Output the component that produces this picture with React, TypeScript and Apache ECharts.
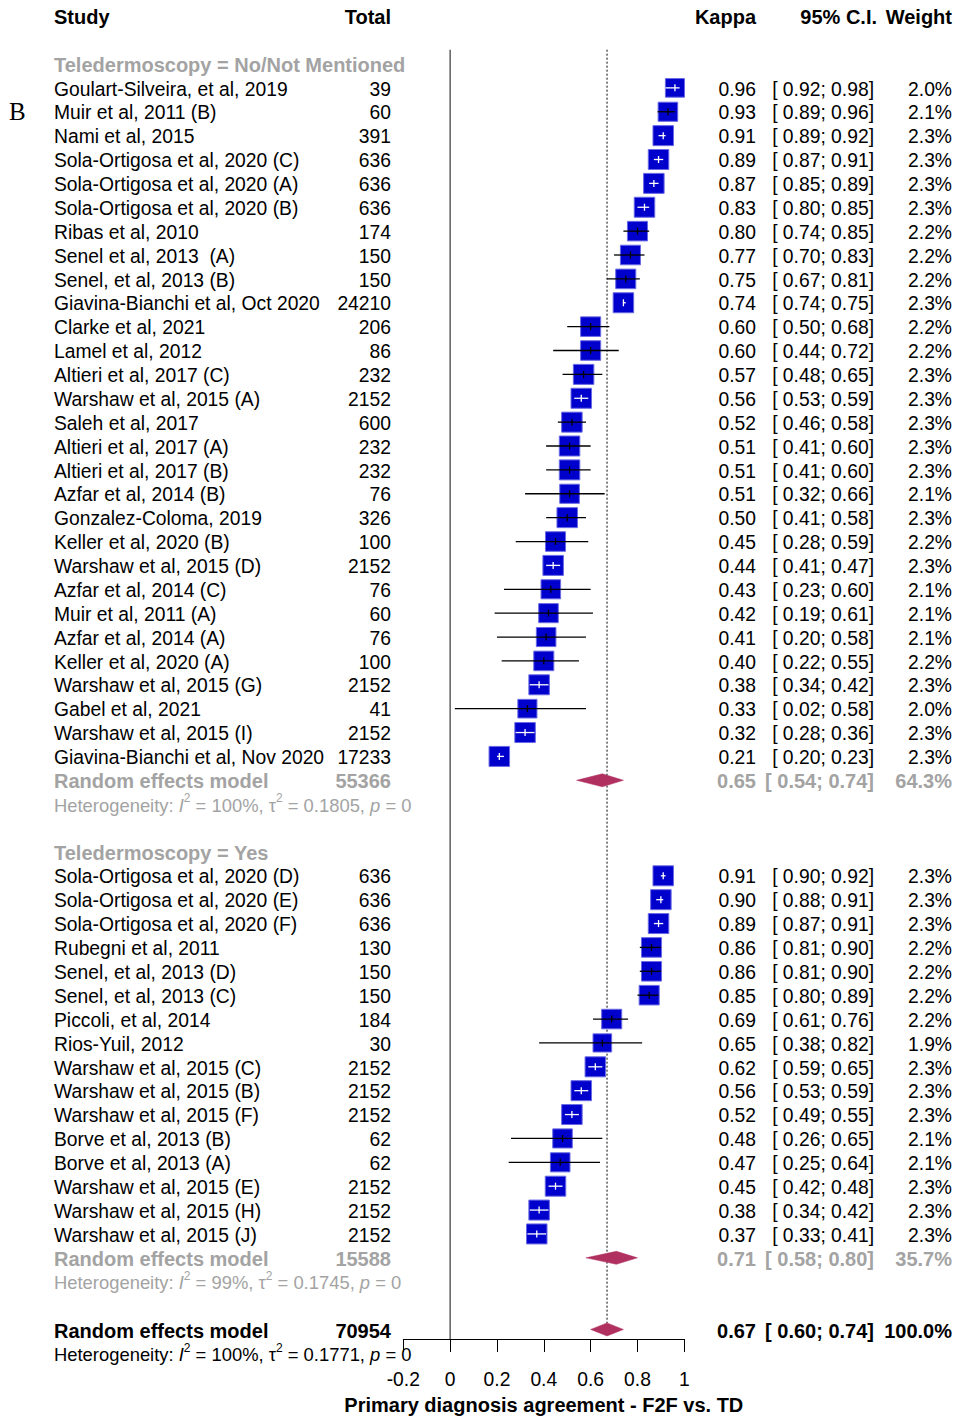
import React, { useEffect, useRef } from "react";
import * as echarts from "echarts";

const FONT = '"Liberation Sans", Arial, Helvetica, sans-serif';
const FS = 19.3;
const FS_BOLD = 20;
const FS_HET = 18.4;
const GRAY = "#a3a3a3";
const BLACK = "#000000";
const BLUE = "#0000cc";
const DIAMOND = "#b03060";

const subgroupLabels = ["Teledermoscopy = No/Not Mentioned", "Teledermoscopy = Yes"];

const group1Studies = [
  "Goulart-Silveira, et al, 2019", "Muir et al, 2011 (B)", "Nami et al, 2015",
  "Sola-Ortigosa et al, 2020 (C)", "Sola-Ortigosa et al, 2020 (A)", "Sola-Ortigosa et al, 2020 (B)",
  "Ribas et al, 2010", "Senel et al, 2013  (A)", "Senel, et al, 2013 (B)",
  "Giavina-Bianchi et al, Oct 2020", "Clarke et al, 2021", "Lamel et al, 2012",
  "Altieri et al, 2017 (C)", "Warshaw et al, 2015 (A)", "Saleh et al, 2017",
  "Altieri et al, 2017 (A)", "Altieri et al, 2017 (B)", "Azfar et al, 2014 (B)",
  "Gonzalez-Coloma, 2019", "Keller et al, 2020 (B)", "Warshaw et al, 2015 (D)",
  "Azfar et al, 2014 (C)", "Muir et al, 2011 (A)", "Azfar et al, 2014 (A)",
  "Keller et al, 2020 (A)", "Warshaw et al, 2015 (G)", "Gabel et al, 2021",
  "Warshaw et al, 2015 (I)", "Giavina-Bianchi et al, Nov 2020",
];
const group1Totals = [39, 60, 391, 636, 636, 636, 174, 150, 150, 24210, 206, 86, 232, 2152, 600, 232, 232, 76, 326, 100, 2152, 76, 60, 76, 100, 2152, 41, 2152, 17233];
const group1Kappa = [0.96, 0.93, 0.91, 0.89, 0.87, 0.83, 0.80, 0.77, 0.75, 0.74, 0.60, 0.60, 0.57, 0.56, 0.52, 0.51, 0.51, 0.51, 0.50, 0.45, 0.44, 0.43, 0.42, 0.41, 0.40, 0.38, 0.33, 0.32, 0.21];
const group1Lower = [0.92, 0.886, 0.89, 0.87, 0.85, 0.80, 0.74, 0.70, 0.67, 0.74, 0.50, 0.44, 0.48, 0.53, 0.46, 0.41, 0.41, 0.32, 0.41, 0.28, 0.41, 0.23, 0.19, 0.20, 0.22, 0.34, 0.02, 0.28, 0.20];
const group1Upper = [0.98, 0.96, 0.92, 0.91, 0.89, 0.85, 0.85, 0.83, 0.81, 0.75, 0.68, 0.72, 0.65, 0.59, 0.58, 0.60, 0.60, 0.66, 0.58, 0.59, 0.47, 0.60, 0.61, 0.58, 0.55, 0.42, 0.58, 0.36, 0.23];
const group1Weights = [2.0, 2.1, 2.3, 2.3, 2.3, 2.3, 2.2, 2.2, 2.2, 2.3, 2.2, 2.2, 2.3, 2.3, 2.3, 2.3, 2.3, 2.1, 2.3, 2.2, 2.3, 2.1, 2.1, 2.1, 2.2, 2.3, 2.0, 2.3, 2.3];

const group2Studies = [
  "Sola-Ortigosa et al, 2020 (D)", "Sola-Ortigosa et al, 2020 (E)", "Sola-Ortigosa et al, 2020 (F)",
  "Rubegni et al, 2011", "Senel, et al, 2013 (D)", "Senel, et al, 2013 (C)",
  "Piccoli, et al, 2014", "Rios-Yuil, 2012", "Warshaw et al, 2015 (C)",
  "Warshaw et al, 2015 (B)", "Warshaw et al, 2015 (F)", "Borve et al, 2013 (B)",
  "Borve et al, 2013 (A)", "Warshaw et al, 2015 (E)", "Warshaw et al, 2015 (H)",
  "Warshaw et al, 2015 (J)",
];
const group2Totals = [636, 636, 636, 130, 150, 150, 184, 30, 2152, 2152, 2152, 62, 62, 2152, 2152, 2152];
const group2Kappa = [0.91, 0.90, 0.89, 0.86, 0.86, 0.85, 0.69, 0.65, 0.62, 0.56, 0.52, 0.48, 0.47, 0.45, 0.38, 0.37];
const group2Lower = [0.90, 0.88, 0.87, 0.81, 0.81, 0.80, 0.61, 0.38, 0.59, 0.53, 0.49, 0.26, 0.25, 0.42, 0.34, 0.33];
const group2Upper = [0.92, 0.91, 0.91, 0.90, 0.90, 0.89, 0.76, 0.82, 0.65, 0.59, 0.55, 0.65, 0.64, 0.48, 0.42, 0.41];
const group2Weights = [2.3, 2.3, 2.3, 2.2, 2.2, 2.2, 2.2, 1.9, 2.3, 2.3, 2.3, 2.1, 2.1, 2.3, 2.3, 2.3];

const summaryTotals = [55366, 15588];
const summaryKappa = [0.65, 0.71];
const summaryLower = [0.54, 0.58];
const summaryUpper = [0.74, 0.80];
const summaryWeights = [64.3, 35.7];
const hetI2 = ["100%", "99%"];
const hetTau2 = ["0.1805", "0.1745"];
const hetP = ["0", "0"];

const overallTotal = 70954;
const overallKappa = 0.67;
const overallLower = 0.60;
const overallUpper = 0.74;
const overallWeight = 100.0;
const overallI2 = "100%";
const overallTau2 = "0.1771";
const overallP = "0";

const xMin = -0.2;
const xMax = 1;
const xStep = 0.2;

const headerLabels = ["Study", "Total", "Kappa", "95% C.I.", "Weight"];

// column positions (layout)
const COL_NAME = 54;
const COL_TOTAL = 391;
const COL_KAPPA = 756;
const COL_CI = 874;
const COL_WEIGHT = 952;
const TEXT_DY = 1.2;

type Cell = { text: string; x: number; align: string; rich?: any };
type TextRow = { row: number; cells: Cell[]; color: string; bold: boolean };

const f2 = (v: number) => v.toFixed(2);
const ci = (lo: number, hi: number) => `[ ${f2(lo)}; ${f2(hi)}]`;
const pct = (w: number) => `${w.toFixed(1)}%`;

function hetRich(color: string) {
  const base = { fontSize: FS_HET, fontFamily: FONT, fontWeight: "normal", fontStyle: "normal", fill: color, lineHeight: 26 };
  return {
    a: { ...base },
    i: { ...base, fontStyle: "italic" },
    s: { ...base, fontSize: 12, lineHeight: 12, verticalAlign: "top" },
  };
}
function hetText(i2: string, tau2: string, p: string) {
  return `{a|Heterogeneity: }{i|I}{s|2}{a| = ${i2}, τ}{s|2}{a| = ${tau2}, }{i|p}{a| = ${p}}`;
}

const textRows: TextRow[] = [];
const studyData: number[][] = [];
const diamondData: number[][] = [];

textRows.push({
  row: -2,
  bold: true,
  color: BLACK,
  cells: [
    { text: headerLabels[0], x: COL_NAME, align: "left" },
    { text: headerLabels[1], x: COL_TOTAL, align: "right" },
    { text: headerLabels[2], x: COL_KAPPA, align: "right" },
    { text: headerLabels[3], x: COL_CI + 3, align: "right" },
    { text: headerLabels[4], x: COL_WEIGHT, align: "right" },
  ],
});

const groups = [
  { names: group1Studies, totals: group1Totals, k: group1Kappa, lo: group1Lower, hi: group1Upper, w: group1Weights },
  { names: group2Studies, totals: group2Totals, k: group2Kappa, lo: group2Lower, hi: group2Upper, w: group2Weights },
];

let r = 0;
groups.forEach((g, gi) => {
  textRows.push({ row: r, bold: true, color: GRAY, cells: [{ text: subgroupLabels[gi], x: COL_NAME, align: "left" }] });
  r++;
  g.names.forEach((name, i) => {
    textRows.push({
      row: r,
      bold: false,
      color: BLACK,
      cells: [
        { text: name, x: COL_NAME, align: "left" },
        { text: String(g.totals[i]), x: COL_TOTAL, align: "right" },
        { text: f2(g.k[i]), x: COL_KAPPA, align: "right" },
        { text: ci(g.lo[i], g.hi[i]), x: COL_CI, align: "right" },
        { text: pct(g.w[i]), x: COL_WEIGHT, align: "right" },
      ],
    });
    studyData.push([r, g.k[i], g.lo[i], g.hi[i], g.w[i]]);
    r++;
  });
  textRows.push({
    row: r,
    bold: true,
    color: GRAY,
    cells: [
      { text: "Random effects model", x: COL_NAME, align: "left" },
      { text: String(summaryTotals[gi]), x: COL_TOTAL, align: "right" },
      { text: f2(summaryKappa[gi]), x: COL_KAPPA, align: "right" },
      { text: ci(summaryLower[gi], summaryUpper[gi]), x: COL_CI, align: "right" },
      { text: pct(summaryWeights[gi]), x: COL_WEIGHT, align: "right" },
    ],
  });
  diamondData.push([r, summaryKappa[gi], summaryLower[gi], summaryUpper[gi]]);
  r++;
  textRows.push({
    row: r,
    bold: false,
    color: GRAY,
    cells: [{ text: hetText(hetI2[gi], hetTau2[gi], hetP[gi]), x: COL_NAME, align: "left", rich: hetRich(GRAY) }],
  });
  r++;
  r++; // blank row
});

const overallRow = r;
textRows.push({
  row: overallRow,
  bold: true,
  color: BLACK,
  cells: [
    { text: "Random effects model", x: COL_NAME, align: "left" },
    { text: String(overallTotal), x: COL_TOTAL, align: "right" },
    { text: f2(overallKappa), x: COL_KAPPA, align: "right" },
    { text: ci(overallLower, overallUpper), x: COL_CI, align: "right" },
    { text: pct(overallWeight), x: COL_WEIGHT, align: "right" },
  ],
});
diamondData.push([overallRow, overallKappa, overallLower, overallUpper]);
textRows.push({
  row: overallRow + 1,
  bold: false,
  color: BLACK,
  cells: [{ text: hetText(overallI2, overallTau2, overallP), x: COL_NAME, align: "left", rich: hetRich(BLACK) }],
});

const Y_MIN = -0.6;
const Y_MAX = overallRow + 0.4;

export default function App() {
  const ref = useRef<HTMLDivElement>(null);
  useEffect(() => {
    if (!ref.current) return;
    const chart = echarts.init(ref.current, undefined, { renderer: "svg" });
    const option: any = {
      animation: false,
      backgroundColor: "#ffffff",
      grid: { left: 403.3, right: 271.7, top: 49.67, bottom: 76.6, containLabel: false },
      xAxis: {
        type: "value",
        min: xMin,
        max: xMax,
        interval: xStep,
        axisLine: { show: true, onZero: false, lineStyle: { color: "#000", width: 1 } },
        axisTick: { show: true, inside: false, length: 13, lineStyle: { color: "#000", width: 1 } },
        axisLabel: { margin: 31, fontSize: FS, fontFamily: FONT, color: "#000" },
        splitLine: { show: false },
        name: "Primary diagnosis agreement - F2F vs. TD",
        nameLocation: "middle",
        nameGap: 56,
        nameTextStyle: { fontSize: FS_BOLD, fontFamily: FONT, fontWeight: "bold", color: "#000" },
      },
      yAxis: { type: "value", min: Y_MIN, max: Y_MAX, inverse: true, show: false },
      graphic: [
        {
          type: "text",
          x: 9,
          y: 111,
          style: { text: "B", font: '25px "Liberation Serif", "Times New Roman", serif', fill: "#000", verticalAlign: "middle" },
        },
      ],
      series: [
        {
          type: "line",
          silent: true,
          symbol: "none",
          data: [[0, Y_MIN], [0, Y_MAX]],
          lineStyle: { color: "#444", width: 1.3 },
          z: 1,
        },
        {
          type: "line",
          silent: true,
          symbol: "none",
          data: [[overallKappa, Y_MIN], [overallKappa, overallRow - 0.27]],
          lineStyle: { color: "#000", width: 1, type: [2, 2] },
          z: 1,
        },
        {
          type: "custom",
          silent: true,
          z: 3,
          data: studyData,
          encode: { x: 1, y: 0 },
          renderItem: (params: any, api: any) => {
            const row = api.value(0);
            const est = api.value(1);
            const lo = api.value(2);
            const hi = api.value(3);
            const w = api.value(4);
            const [cx, cy] = api.coord([est, row]);
            const xl = api.coord([lo, row])[0];
            const xh = api.coord([hi, row])[0];
            const s = Math.sqrt(w / 2.3);
            const sw = 20.5 * s;
            const sh = 20 * s;
            const inside = xl >= cx - sw / 2 && xh <= cx + sw / 2;
            const lc = inside ? "#ffffff" : "#000000";
            return {
              type: "group",
              children: [
                {
                  type: "rect",
                  shape: { x: cx - sw / 2, y: cy - sh / 2, width: sw, height: sh },
                  style: { fill: BLUE, stroke: "#6a6ae6", lineWidth: 1 },
                },
                { type: "line", shape: { x1: xl, y1: cy, x2: xh, y2: cy }, style: { stroke: lc, lineWidth: 1.3 } },
                { type: "line", shape: { x1: cx, y1: cy - 3.5, x2: cx, y2: cy + 3.5 }, style: { stroke: lc, lineWidth: 1.3 } },
              ],
            };
          },
        },
        {
          type: "custom",
          silent: true,
          z: 3,
          data: diamondData,
          encode: { x: 1, y: 0 },
          renderItem: (params: any, api: any) => {
            const row = api.value(0);
            const [cx, cy] = api.coord([api.value(1), row]);
            const xl = api.coord([api.value(2), row])[0];
            const xh = api.coord([api.value(3), row])[0];
            const h = 6.5;
            return {
              type: "polygon",
              shape: { points: [[xl, cy], [cx, cy - h], [xh, cy], [cx, cy + h]] },
              style: { fill: DIAMOND, stroke: DIAMOND, lineWidth: 0.5 },
            };
          },
        },
        {
          type: "custom",
          silent: true,
          z: 4,
          data: textRows.map((t) => [0, t.row]),
          encode: { x: 0, y: 1 },
          renderItem: (params: any, api: any) => {
            const item = textRows[params.dataIndex];
            const y = api.coord([0, api.value(1)])[1] + TEXT_DY;
            return {
              type: "group",
              children: item.cells.map((c) => ({
                type: "text",
                style: {
                  text: c.text,
                  x: c.x,
                  y,
                  align: c.align,
                  verticalAlign: "middle",
                  fill: item.color,
                  fontSize: item.bold ? FS_BOLD : FS,
                  fontFamily: FONT,
                  fontWeight: item.bold ? "bold" : "normal",
                  rich: c.rich,
                },
              })),
            };
          },
        },
      ],
    };
    chart.setOption(option);
    return () => chart.dispose();
  }, []);
  return (
    <div
      ref={ref}
      style={{ position: "absolute", left: 0, top: 0, width: 956, height: 1420, background: "#fff" }}
    />
  );
}
